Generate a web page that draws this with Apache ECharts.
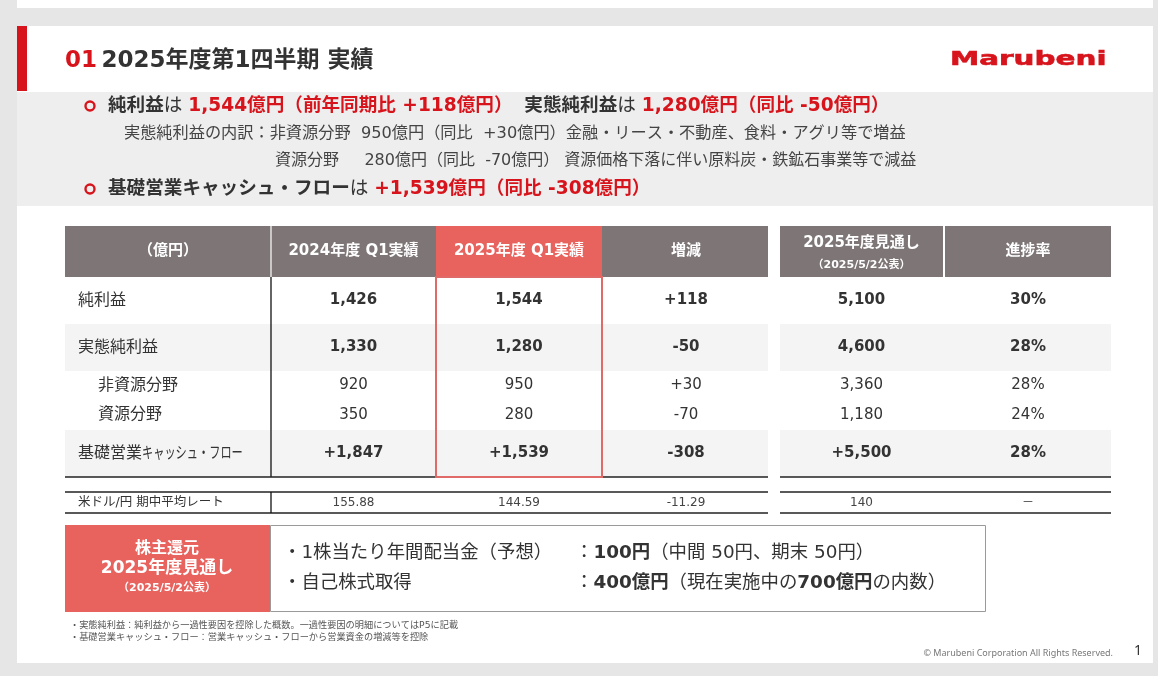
<!DOCTYPE html>
<html><head><meta charset="utf-8">
<script src="https://cdn.jsdelivr.net/npm/echarts@6/dist/echarts.min.js"></script>
<style>html,body{margin:0;padding:0;background:#e6e6e6;overflow:hidden}#c{width:1158px;height:676px}</style>
</head><body><div id="c"></div>
<script>
// ---- data ----
const titleNo = '01';
const titleText = '2025年度第1四半期 実績';
const headers = [['（億円）'], ['2024年度 Q1実績'], ['2025年度 Q1実績'], ['増減'], ['2025年度見通し', '（2025/5/2公表）'], ['進捗率']];
const rowLabels = ['純利益', '実態純利益', '非資源分野', '資源分野', '基礎営業キャッシュ・フロー'];
const fy24Q1 = ['1,426', '1,330', '920', '350', '+1,847'];
const fy25Q1 = ['1,544', '1,280', '950', '280', '+1,539'];
const change = ['+118', '-50', '+30', '-70', '-308'];
const fy25Forecast = ['5,100', '4,600', '3,360', '1,180', '+5,500'];
const progress = ['30%', '28%', '28%', '24%', '28%'];
const boldRows = [true, true, false, false, true];
const fxLabel = '米ドル/円 期中平均レート';
const fxValues = ['155.88', '144.59', '-11.29', '140', '－'];
const footnotes = [
  '・実態純利益：純利益から一過性要因を控除した概数。一過性要因の明細についてはP5に記載',
  '・基礎営業キャッシュ・フロー：営業キャッシュ・フローから営業資金の増減等を控除'
];

// ---- layout / style ----
const FONT = '"DejaVu Sans", "Noto Sans CJK JP", sans-serif';
const DARK = '#333333', RED = '#d7141c', HDR = '#7d7576', HRED = '#e8625e';
const colX = [65, 272, 436, 604, 780, 945];
const colW = [206, 163, 166, 164, 163, 166];
const rowY = [277, 324, 371, 400, 430];
const rowH = [47, 47, 29, 30, 47];
const rowBg = ['#ffffff', '#f4f4f4', '#ffffff', '#ffffff', '#f4f4f4'];

const els = [];
function rect(x, y, w, h, fill, stroke, lw, z) {
  els.push({ type: 'rect', silent: true, z: z || 1, shape: { x, y, width: w, height: h },
    style: { fill: fill || 'none', stroke: stroke || null, lineWidth: lw || 0 } });
}
function line(x1, y1, x2, y2, stroke, lw, z) {
  els.push({ type: 'line', silent: true, z: z || 3, shape: { x1, y1, x2, y2 }, style: { stroke, lineWidth: lw } });
}
function text(t, x, y, opt) {
  opt = Object.assign({}, opt || {});
  const z = opt.z || 5, sx = opt.scaleX || 1;
  delete opt.z; delete opt.scaleX;
  els.push({ type: 'text', silent: true, z, x, y, scaleX: sx,
    style: Object.assign({ text: t, fill: DARK, fontSize: 14, fontFamily: FONT, align: 'left', verticalAlign: 'middle' }, opt) });
}
function ring(cx, cy) {
  els.push({ type: 'circle', silent: true, z: 5, shape: { cx, cy, r: 4.5 }, style: { fill: 'none', stroke: RED, lineWidth: 2.4 } });
}
const rs = (size, bold, color) => ({ fontSize: size, fontWeight: bold ? 'bold' : 'normal', fill: color, fontFamily: FONT });

// slide backgrounds
rect(17, 0, 1136, 8, '#ffffff', null, 0, 0);
rect(17, 26, 1136, 637, '#ffffff', null, 0, 0);
rect(17, 26, 10, 65, RED, null, 0, 2);
rect(17, 92, 1136, 114, '#eeeeee', null, 0, 1);

// title
text('{r|' + titleNo + '} {d|' + titleText + '}', 65, 61, { rich: { r: rs(23, true, RED), d: rs(23, true, DARK) } });
text('Marubeni', 950, 60, { fontFamily: '"DejaVu Sans", sans-serif', fontWeight: 'bold', fontSize: 20, fill: RED, stroke: RED, lineWidth: 0.6, scaleX: 1.47 });

// summary band
const R18 = { b: rs(18.6, true, DARK), n: rs(18.6, false, DARK), r: rs(18.6, true, RED) };
ring(90, 106);
text('{b|純利益}{n|は }{r|1,544億円（前年同期比 +118億円）}{n|  }{b|実態純利益}{n|は }{r|1,280億円（同比 -50億円）}', 108, 106, { rich: R18 });
text('実態純利益の内訳：非資源分野  950億円（同比  +30億円）金融・リース・不動産、食料・アグリ等で増益', 124, 134, { fontSize: 16.2, fill: '#444' });
text('資源分野     280億円（同比  -70億円） 資源価格下落に伴い原料炭・鉄鉱石事業等で減益', 275, 161, { fontSize: 16, fill: '#444' });
ring(90, 189);
text('{b|基礎営業キャッシュ・フロー}{n|は }{r|+1,539億円（同比 -308億円）}', 108, 189, { rich: R18 });

// table header
headers.forEach((h, i) => {
  rect(colX[i], 226, colW[i], 51, i === 2 ? HRED : HDR, null, 0, 2);
  const cx = colX[i] + colW[i] / 2;
  if (h.length === 1) {
    text(h[0], cx, 251, { align: 'center', fill: '#ffffff', fontWeight: 'bold', fontSize: 15 });
  } else {
    text(h[0], cx, 243, { align: 'center', fill: '#ffffff', fontWeight: 'bold', fontSize: 15 });
    text(h[1], cx, 265, { align: 'center', fill: '#ffffff', fontWeight: 'bold', fontSize: 11 });
  }
});
rect(colX[0] + colW[0], 226, colX[1] - colX[0] - colW[0], 51, HDR, null, 0, 2);
rect(colX[1] + colW[1], 226, colX[2] - colX[1] - colW[1], 51, HDR, null, 0, 2);
rect(colX[2] + colW[2], 226, colX[3] - colX[2] - colW[2], 51, HDR, null, 0, 2);
line(271, 226, 271, 277, '#ffffff', 1.2, 3);
line(944, 226, 944, 277, '#ffffff', 1.2, 3);

// table body
const cols = [fy24Q1, fy25Q1, change, fy25Forecast, progress];
rowLabels.forEach((lab, r) => {
  rect(65, rowY[r], 703, rowH[r], rowBg[r], null, 0, 1);
  rect(780, rowY[r], 331, rowH[r], rowBg[r], null, 0, 1);
  const cy = rowY[r] + rowH[r] / 2;
  const lx = boldRows[r] ? 78 : 98;
  const kana = lab.indexOf('キャ');
  if (kana > 0) {
    // condensed katakana part, as in the original proportional font
    text(lab.slice(0, kana), lx, cy, { fontSize: 16 });
    text(lab.slice(kana), lx + kana * 16, cy, { fontSize: 16, scaleX: 0.7 });
  } else {
    text(lab, lx, cy, { fontSize: 16 });
  }
  cols.forEach((arr, c) => {
    const i = c + 1;
    text(arr[r], colX[i] + colW[i] / 2, cy, { align: 'center', fontSize: 15, fontWeight: boldRows[r] ? 'bold' : 'normal', fill: DARK });
  });
});
line(271, 277, 271, 477, '#111', 1.3, 3);
line(65, 477, 768, 477, '#222', 1.5, 3);
line(780, 477, 1111, 477, '#222', 1.5, 3);
els.push({ type: 'rect', silent: true, z: 4, shape: { x: 436, y: 277, width: 166, height: 200 }, style: { fill: 'none', stroke: '#e06a68', lineWidth: 2 } });

// fx rate row
line(65, 492, 768, 492, '#222', 1.3, 3);
line(780, 492, 1111, 492, '#222', 1.3, 3);
line(65, 513, 768, 513, '#222', 1.3, 3);
line(780, 513, 1111, 513, '#222', 1.3, 3);
line(271, 492, 271, 513, '#111', 1.3, 3);
text(fxLabel, 78, 503, { fontSize: 12.5 });
fxValues.forEach((v, c) => {
  const i = c + 1;
  text(v, colX[i] + colW[i] / 2, 503, { align: 'center', fontSize: 12, fill: '#444' });
});

// shareholder returns box
rect(65, 525, 205, 87, HRED, null, 0, 2);
text('株主還元', 167, 549, { align: 'center', fill: '#ffffff', fontWeight: 'bold', fontSize: 16 });
text('2025年度見通し', 167, 569, { align: 'center', fill: '#ffffff', fontWeight: 'bold', fontSize: 17 });
text('（2025/5/2公表）', 167, 588, { align: 'center', fill: '#ffffff', fontWeight: 'bold', fontSize: 11 });
rect(270.5, 525.5, 715, 86, 'none', '#9a9a9a', 1, 2);
const R18b = { b: rs(18.4, true, DARK), n: rs(18.4, false, DARK) };
text('・1株当たり年間配当金（予想）', 283, 553, { fontSize: 18.4 });
text('{n|：}{b|100円}{n|（中間 50円、期末 50円）}', 575, 553, { rich: R18b });
text('・自己株式取得', 283, 583, { fontSize: 18.4 });
text('{n|：}{b|400億円}{n|（現在実施中の}{b|700億円}{n|の内数）}', 575, 583, { rich: R18b });

// footnotes
footnotes.forEach((f, i) => text(f, 70, 626 + i * 12, { fontSize: 9.2, fill: '#555' }));
text('© Marubeni Corporation All Rights Reserved.', 1113, 653, { align: 'right', fontSize: 9, fill: '#777', fontFamily: '"Noto Sans", sans-serif' });
text('1', 1138, 651, { align: 'center', fontSize: 14, fill: '#333', fontFamily: '"Noto Sans", sans-serif' });

const chart = echarts.init(document.getElementById('c'), null, { renderer: 'canvas' });
chart.setOption({ backgroundColor: '#e6e6e6', animation: false, graphic: { elements: els } });
</script>
</body></html>
